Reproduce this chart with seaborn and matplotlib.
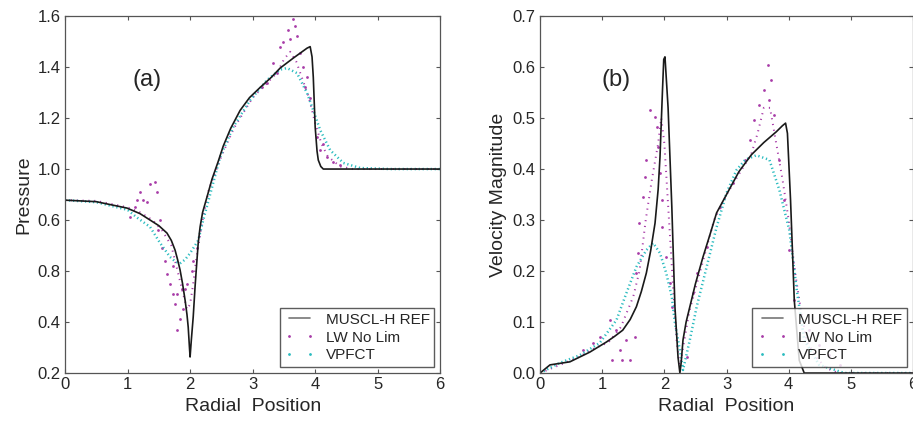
import matplotlib
matplotlib.use("Agg")
import matplotlib.pyplot as plt
from matplotlib.lines import Line2D
import seaborn as sns

# ---- panel (a): pressure ----
ref_a_r = [0, 0.5, 0.99, 1.2, 1.36, 1.5, 1.63, 1.7, 1.76, 1.8, 1.84, 1.88, 1.92, 1.95, 1.97, 1.99, 2.0,
           2.02, 2.05, 2.08, 2.11, 2.13, 2.16, 2.2, 2.27, 2.35, 2.45, 2.53, 2.65, 2.8, 2.95, 3.12,
           3.3, 3.44, 3.65, 3.87, 3.92, 3.95, 3.97, 4.0, 4.03, 4.05, 4.09, 4.13, 5.0, 6.0]
ref_a_p = [0.878, 0.872, 0.847, 0.825, 0.80, 0.778, 0.749, 0.72, 0.682, 0.645, 0.604, 0.55, 0.486, 0.43,
           0.38, 0.30, 0.263, 0.33, 0.42, 0.54, 0.643, 0.71, 0.773, 0.83, 0.89, 0.96, 1.03, 1.09,
           1.16, 1.23, 1.28, 1.32, 1.36, 1.396, 1.435, 1.474, 1.48, 1.44, 1.36, 1.165, 1.07, 1.035,
           1.01, 1.0, 1.0, 1.0]

vp_a_r = [0, 0.5, 1.0, 1.15, 1.36, 1.52, 1.68, 1.76, 1.84, 1.92, 2.0, 2.13, 2.21, 2.32, 2.48, 2.69, 2.96,
          3.23, 3.44, 3.55, 3.71, 3.87, 3.97, 4.08, 4.24, 4.45, 4.72, 5.2, 6.0]
vp_a_p = [0.878, 0.87, 0.84, 0.81, 0.773, 0.71, 0.655, 0.638, 0.63, 0.645, 0.67, 0.72, 0.80, 0.90, 1.047,
          1.165, 1.27, 1.349, 1.39, 1.396, 1.376, 1.298, 1.23, 1.153, 1.074, 1.024, 1.004, 1.0, 1.0]

lw_a_r = [0, 0.5, 1.0, 1.2, 1.4, 1.55, 1.7, 1.8, 1.9, 1.95, 2.0, 2.05, 2.1, 2.2, 2.3, 2.5, 2.7,
          3.0, 3.2, 3.4, 3.5, 3.6, 3.7, 3.8, 3.9, 4.0, 4.1, 4.2, 4.4, 4.6, 6.0]
lw_a_p = [0.878, 0.875, 0.85, 0.83, 0.80, 0.76, 0.70, 0.60, 0.50, 0.45, 0.47, 0.55, 0.65, 0.80, 0.92,
          1.05, 1.16, 1.28, 1.33, 1.38, 1.43, 1.46, 1.42, 1.35, 1.28, 1.18, 1.10, 1.05, 1.01, 1.0, 1.0]

lw_a_sr = [1.2, 1.36, 1.44, 1.47, 1.31, 1.12, 1.04, 1.52, 1.49, 1.55, 1.6, 1.63, 1.68, 1.73, 1.76,
           1.79, 1.84, 1.89, 1.92, 1.95, 2.03, 2.05, 2.11, 1.79, 1.87, 1.73, 1.15, 1.25,
           3.65, 3.68, 3.57, 3.49, 3.44, 3.6, 3.71, 3.33, 3.39, 3.23, 3.15, 3.76, 3.81, 3.87,
           3.84, 3.92, 4.08, 4.19, 4.29, 4.13, 4.03, 4.4]
lw_a_sp = [0.91, 0.94, 0.95, 0.91, 0.87, 0.85, 0.81, 0.80, 0.76, 0.69, 0.64, 0.59, 0.55, 0.51, 0.47,
           0.37, 0.41, 0.45, 0.53, 0.55, 0.60, 0.64, 0.69, 0.51, 0.53, 0.62, 0.88, 0.88,
           1.59, 1.56, 1.545, 1.50, 1.48, 1.51, 1.52, 1.416, 1.376, 1.337, 1.32, 1.455, 1.40, 1.36,
           1.32, 1.28, 1.075, 1.047, 1.027, 1.10, 1.125, 1.016]

# ---- panel (b): velocity magnitude ----
ref_b_r = [0, 0.16, 0.48, 0.8, 1.07, 1.2, 1.33, 1.45, 1.55, 1.63, 1.71, 1.78, 1.85, 1.9, 1.93, 1.95,
           1.97, 1.99, 2.01, 2.03, 2.06, 2.12, 2.17, 2.22, 2.25, 2.27, 2.3, 2.35, 2.41, 2.5, 2.62,
           2.73, 2.84, 3.0, 3.2, 3.4, 3.6, 3.8, 3.9, 3.95, 3.98, 4.03, 4.09, 4.17, 4.25, 6.0]
ref_b_v = [0, 0.016, 0.022, 0.041, 0.061, 0.072, 0.084, 0.105, 0.13, 0.16, 0.196, 0.24, 0.294, 0.36,
           0.424, 0.49, 0.555, 0.615, 0.62, 0.58, 0.52, 0.326, 0.13, 0.031, 0.0, 0.02, 0.065, 0.10,
           0.13, 0.175, 0.227, 0.27, 0.314, 0.35, 0.395, 0.428, 0.452, 0.473, 0.485, 0.49, 0.47,
           0.339, 0.143, 0.025, 0.0, 0.0]

vp_b_r = [0, 0.32, 0.64, 0.96, 1.23, 1.39, 1.55, 1.71, 1.82, 1.93, 2.03, 2.12, 2.17, 2.25, 2.3,
          2.41, 2.52, 2.68, 2.84, 3.0, 3.16, 3.3, 3.48, 3.69, 3.85, 4.01, 4.13, 4.25, 4.49, 4.9, 6.0]
vp_b_v = [0, 0.02, 0.035, 0.059, 0.104, 0.157, 0.208, 0.241, 0.255, 0.235, 0.196, 0.149, 0.098, 0.045,
          0.006, 0.065, 0.13, 0.208, 0.286, 0.353, 0.398, 0.418, 0.427, 0.418, 0.359, 0.28, 0.163, 0.065,
          0.016, 0.0, 0.0]

lw_b_r = [0, 0.3, 0.6, 0.9, 1.1, 1.3, 1.5, 1.6, 1.7, 1.8, 1.9, 1.95, 2.0, 2.05, 2.1, 2.15, 2.2, 2.25,
          2.3, 2.4, 2.6, 2.8, 3.0, 3.2, 3.4, 3.5, 3.6, 3.7, 3.8, 3.9, 4.0, 4.1, 4.2, 4.3, 4.45, 4.6, 4.8, 6.0]
lw_b_v = [0, 0.015, 0.03, 0.05, 0.06, 0.09, 0.15, 0.20, 0.30, 0.38, 0.45, 0.50, 0.45, 0.35, 0.25, 0.15,
          0.06, 0.01, 0.05, 0.12, 0.21, 0.30, 0.35, 0.39, 0.43, 0.47, 0.52, 0.52, 0.45, 0.38, 0.30, 0.20,
          0.12, 0.06, 0.03, 0.01, 0.0, 0.0]

lw_b_sr = [1.77, 1.85, 1.88, 1.71, 1.69, 1.66, 1.6, 1.57, 1.55, 1.9, 1.93, 1.96, 1.97, 2.03, 2.09, 2.13,
           1.52, 1.39, 1.28, 1.23, 1.12, 1.16, 1.32, 1.44, 0.86, 0.69, 0.96, 2.36, 2.46, 2.52, 2.68,
           2.89, 3.1, 3.45, 3.53, 3.61, 3.66, 3.72, 3.69, 3.77, 3.37, 3.29, 3.85, 3.93, 4.01, 4.09,
           4.33, 4.49, 4.65, 4.82]
lw_b_sv = [0.516, 0.502, 0.482, 0.418, 0.384, 0.345, 0.294, 0.235, 0.196, 0.443, 0.392, 0.339, 0.286,
           0.227, 0.176, 0.13, 0.071, 0.065, 0.045, 0.084, 0.104, 0.025, 0.025, 0.025, 0.059, 0.045,
           0.071, 0.031, 0.157, 0.196, 0.247, 0.326, 0.373, 0.496, 0.525, 0.555, 0.604, 0.575, 0.535,
           0.506, 0.457, 0.418, 0.418, 0.339, 0.241, 0.143, 0.084, 0.055, 0.035, 0.016]

ref_color = "#1a1a1a"
lw_color = "#a83ca8"
vp_color = "#2cbcc0"

sns.set_style("ticks")
plt.rcParams["font.family"] = ["Liberation Sans", "DejaVu Sans"]

fig = plt.figure(figsize=(9.13, 4.22), dpi=100)
ax_a = fig.add_axes([0.0712, 0.116, 0.411, 0.846])
ax_b = fig.add_axes([0.5915, 0.116, 0.4085, 0.846])


def draw_panel(ax, ref_r, ref_y, vp_r, vp_y, lw_r, lw_y, lw_sr, lw_sy):
    sns.lineplot(x=lw_r, y=lw_y, ax=ax, color=lw_color, lw=1.4,
                 linestyle=(0, (0.6, 2.4)), sort=False, estimator=None)
    sns.scatterplot(x=lw_sr, y=lw_sy, ax=ax, color=lw_color, s=4, linewidth=0)
    sns.lineplot(x=vp_r, y=vp_y, ax=ax, color=vp_color, lw=1.8,
                 linestyle=(0, (0.5, 1.1)), sort=False, estimator=None)
    sns.lineplot(x=ref_r, y=ref_y, ax=ax, color=ref_color, lw=1.2,
                 sort=False, estimator=None)
    ax.set_xlim(0, 6)
    ax.set_xticks(range(7))
    ax.set_xlabel("Radial  Position", fontsize=14, labelpad=4)
    ax.tick_params(direction="in", top=True, right=True, labelsize=12,
                   length=3, color="#555555", pad=3)
    for sp in ax.spines.values():
        sp.set_visible(True)
        sp.set_color("#555555")
        sp.set_linewidth(0.9)
    handles = [
        Line2D([], [], color="#777777", lw=1.2),
        Line2D([], [], color=lw_color, ls="none", marker=".", ms=2),
        Line2D([], [], color=vp_color, ls="none", marker=".", ms=2),
    ]
    leg = ax.legend(handles, ["MUSCL-H REF", "LW No Lim", "VPFCT"], loc="lower right",
                    fontsize=11, frameon=True, fancybox=False, numpoints=2,
                    borderaxespad=0.4, handlelength=2.0, handletextpad=0.7,
                    labelspacing=0.25, borderpad=0.3)
    leg.get_frame().set_edgecolor("#333333")
    leg.get_frame().set_linewidth(1.0)


draw_panel(ax_a, ref_a_r, ref_a_p, vp_a_r, vp_a_p, lw_a_r, lw_a_p, lw_a_sr, lw_a_sp)
ax_a.set_ylim(0.2, 1.6)
ax_a.set_yticks([0.2, 0.4, 0.6, 0.8, 1.0, 1.2, 1.4, 1.6])
ax_a.set_yticklabels(["0.2", "0.4", "0.8", "0.6", "1.0", "1.2", "1.4", "1.6"])
ax_a.set_ylabel("Pressure", fontsize=14, labelpad=4)
ax_a.text(1.31, 1.35, "(a)", fontsize=17, ha="center", va="center")

draw_panel(ax_b, ref_b_r, ref_b_v, vp_b_r, vp_b_v, lw_b_r, lw_b_v, lw_b_sr, lw_b_sv)
ax_b.set_ylim(0, 0.7)
ax_b.set_yticks([0.0, 0.1, 0.2, 0.3, 0.4, 0.5, 0.6, 0.7])
ax_b.set_yticklabels(["0.0", "0.1", "0.2", "0.3", "0.4", "0.5", "0.6", "0.7"])
ax_b.set_ylabel("Velocity Magnitude", fontsize=14, labelpad=4)
ax_b.text(1.22, 0.575, "(b)", fontsize=17, ha="center", va="center")

fig.savefig("out.png", dpi=100)
